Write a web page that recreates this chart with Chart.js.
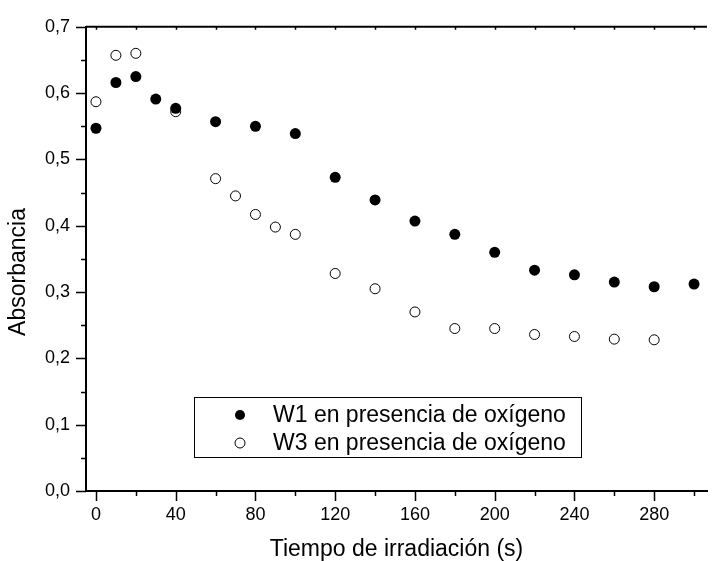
<!DOCTYPE html>
<html>
<head>
<meta charset="utf-8">
<script src="https://cdn.jsdelivr.net/npm/chart.js@4.4.1/dist/chart.umd.min.js"></script>
<style>
  html, body { margin: 0; padding: 0; background: #fff; }
  #wrap { width: 713px; height: 561px; }
</style>
</head>
<body>
<div id="wrap"><canvas id="absChart"></canvas></div>
<script>
// datos
const tiempoW1 = [0, 10, 20, 30, 40, 60, 80, 100, 120, 140, 160, 180, 200, 220, 240, 260, 280, 300];
const absW1 = [0.547, 0.616, 0.625, 0.591, 0.577, 0.557, 0.550, 0.539, 0.473, 0.439, 0.407, 0.387, 0.360, 0.333, 0.326, 0.315, 0.308, 0.312];
const tiempoW3 = [0, 10, 20, 40, 60, 70, 80, 90, 100, 120, 140, 160, 180, 200, 220, 240, 260, 280];
const absW3 = [0.587, 0.657, 0.660, 0.572, 0.471, 0.445, 0.417, 0.398, 0.387, 0.328, 0.305, 0.270, 0.245, 0.245, 0.236, 0.233, 0.229, 0.228];
const xTicks = [0, 40, 80, 120, 160, 200, 240, 280];
const xMinor = [20, 60, 100, 140, 180, 220, 260, 300];
const yTicks = [0, 0.1, 0.2, 0.3, 0.4, 0.5, 0.6, 0.7];
const yMinor = [0.05, 0.15, 0.25, 0.35, 0.45, 0.55, 0.65];
const labelW1 = 'W1 en presencia de oxígeno';
const labelW3 = 'W3 en presencia de oxígeno';
const tituloX = 'Tiempo de irradiación (s)';
const tituloY = 'Absorbancia';

const FONT = "'Liberation Sans', Arial, sans-serif";

function toPoints(xs, ys) {
  return xs.map((x, i) => ({ x: x, y: ys[i] }));
}

// ticks mayores/menores, eje superior, titulos y leyenda
const tickMarks = {
  id: 'tickMarks',
  afterDraw(chart) {
    const ctx = chart.ctx;
    const xs = chart.scales.x, ys = chart.scales.y;
    const a = chart.chartArea;
    ctx.save();
    ctx.strokeStyle = '#000';
    ctx.lineWidth = 2;
    ctx.beginPath();
    ctx.moveTo(a.left, a.top);
    ctx.lineTo(a.right, a.top);
    ctx.stroke();
    ctx.lineWidth = 1.5;
    ctx.beginPath();
    xTicks.forEach(v => {
      const p = Math.round(xs.getPixelForValue(v)) + 0.5;
      ctx.moveTo(p, a.bottom); ctx.lineTo(p, a.bottom + 10);
      ctx.moveTo(p, a.top); ctx.lineTo(p, a.top + 3);
    });
    xMinor.forEach(v => {
      const p = Math.round(xs.getPixelForValue(v)) + 0.5;
      ctx.moveTo(p, a.bottom); ctx.lineTo(p, a.bottom + 5);
      ctx.moveTo(p, a.top); ctx.lineTo(p, a.top + 3);
    });
    yTicks.forEach(v => {
      const p = Math.round(ys.getPixelForValue(v)) + 0.5;
      ctx.moveTo(a.left, p); ctx.lineTo(a.left - 10, p);
    });
    yMinor.forEach(v => {
      const p = Math.round(ys.getPixelForValue(v)) + 0.5;
      ctx.moveTo(a.left, p); ctx.lineTo(a.left - 5, p);
    });
    ctx.stroke();

    // titulos de ejes
    ctx.fillStyle = '#000';
    ctx.font = '23px ' + FONT;
    ctx.textAlign = 'center';
    ctx.textBaseline = 'middle';
    ctx.fillText(tituloX, (a.left + a.right) / 2, 550);
    ctx.save();
    ctx.translate(19, 272);
    ctx.rotate(-Math.PI / 2);
    ctx.fillText(tituloY, 0, 0);
    ctx.restore();

    // leyenda
    const bx = 194.5, by = 397.5, bw = 387, bh = 60;
    ctx.fillStyle = '#fff';
    ctx.fillRect(bx, by, bw, bh);
    ctx.lineWidth = 1;
    ctx.strokeRect(bx, by, bw, bh);
    ctx.font = '23px ' + FONT;
    ctx.textBaseline = 'middle';
    ctx.textAlign = 'left';
    const rows = [[labelW1, true, 415], [labelW3, false, 443]];
    rows.forEach(r => {
      ctx.beginPath();
      ctx.arc(240, r[2], 5, 0, Math.PI * 2);
      if (r[1]) { ctx.fillStyle = '#000'; ctx.fill(); }
      else { ctx.fillStyle = '#fff'; ctx.fill(); ctx.lineWidth = 1; ctx.stroke(); }
      ctx.fillStyle = '#000';
      ctx.fillText(r[0], 273, r[2] + 1);
    });
    ctx.restore();
  }
};

new Chart(document.getElementById('absChart'), {
  type: 'scatter',
  data: {
    datasets: [
      {
        label: labelW1,
        data: toPoints(tiempoW1, absW1),
        pointRadius: 5.5,
        pointBackgroundColor: '#000',
        pointBorderColor: '#000',
        pointBorderWidth: 0
      },
      {
        label: labelW3,
        data: toPoints(tiempoW3, absW3),
        pointRadius: 5,
        pointBackgroundColor: '#fff',
        pointBorderColor: '#000',
        pointBorderWidth: 1
      }
    ]
  },
  options: {
    responsive: true,
    maintainAspectRatio: false,
    animation: false,
    layout: { padding: { top: 24, right: 0, left: 0, bottom: 0 } },
    plugins: { legend: { display: false }, tooltip: { enabled: false } },
    scales: {
      x: {
        type: 'linear',
        min: -5,
        max: 306.5,
        afterBuildTicks: s => { s.ticks = xTicks.map(v => ({ value: v })); },
        afterFit: s => { s.height = 70; },
        grid: { display: false, drawTicks: false },
        border: { display: true, color: '#000', width: 2 },
        ticks: { color: '#000', padding: 13, maxRotation: 0, font: { family: FONT, size: 18 } }
      },
      y: {
        min: 0,
        max: 0.7,
        afterBuildTicks: s => { s.ticks = yTicks.map(v => ({ value: v })); },
        afterFit: s => { s.width = 86; },
        grid: { display: false, drawTicks: false },
        border: { display: true, color: '#000', width: 2 },
        ticks: {
          color: '#000',
          padding: 16,
          font: { family: FONT, size: 18 },
          callback: v => v.toFixed(1).replace('.', ',')
        }
      }
    }
  },
  plugins: [tickMarks]
});
</script>
</body>
</html>
